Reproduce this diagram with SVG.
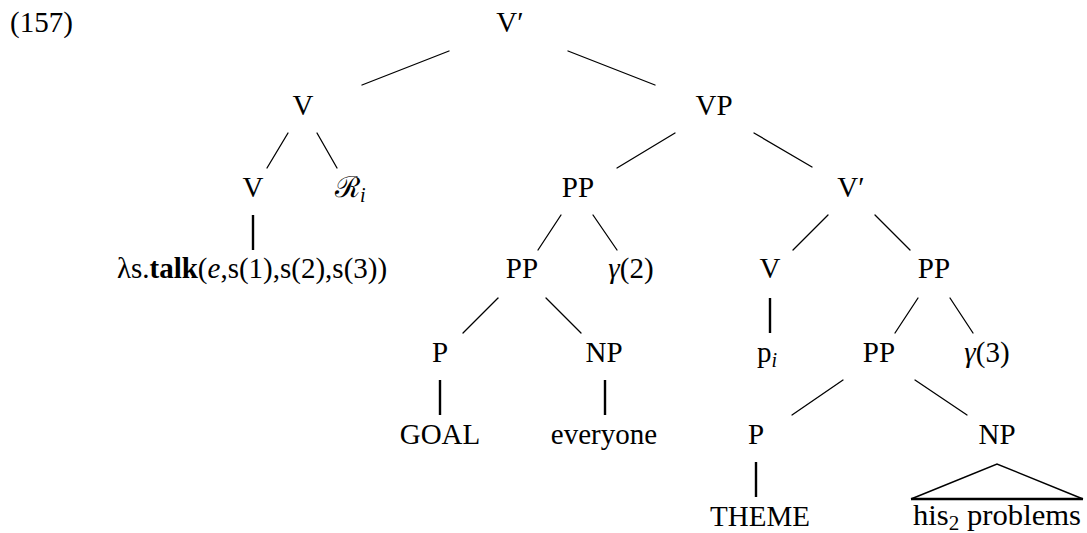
<svg xmlns="http://www.w3.org/2000/svg" width="1087" height="533" viewBox="0 0 1087 533">
<style>
text{font-family:'Liberation Serif','DejaVu Serif',serif;font-size:29px;fill:#000;text-anchor:middle}
.st{text-anchor:start}
.it{font-style:italic}
.b{font-weight:bold}
.sub{font-size:20px}
.e line{stroke:#000;stroke-width:1.3;stroke-linecap:round}
.e line.v{stroke-width:2.4;stroke-linecap:butt}
.e polyline{fill:none;stroke:#000;stroke-width:1.5}
.e line.base{stroke-width:2.4;stroke-linecap:butt}
</style>
<rect width="1087" height="533" fill="#fff"/>
<text class="st" x="10" y="32">(157)</text>
<g class="e" id="connectors">
<line x1="449" y1="51" x2="362" y2="85"/>
<line x1="568" y1="51" x2="655" y2="85"/>
<line x1="288" y1="133" x2="267" y2="168"/>
<line x1="317" y1="133" x2="337" y2="168"/>
<line class="v" x1="253" y1="215" x2="253" y2="250"/>
<line x1="675" y1="133" x2="617" y2="168"/>
<line x1="754" y1="133" x2="812" y2="167"/>
<line x1="561" y1="215" x2="538" y2="250"/>
<line x1="593" y1="215" x2="617" y2="250"/>
<line x1="828" y1="215" x2="793" y2="250"/>
<line x1="875" y1="215" x2="910" y2="250"/>
<line x1="498" y1="298" x2="463" y2="333"/>
<line x1="546" y1="298" x2="581" y2="333"/>
<line class="v" x1="770" y1="298" x2="770" y2="333"/>
<line x1="918" y1="298" x2="895" y2="333"/>
<line x1="950" y1="298" x2="973" y2="333"/>
<line class="v" x1="440" y1="380" x2="440" y2="415"/>
<line class="v" x1="605" y1="380" x2="605" y2="415"/>
<line x1="843" y1="380" x2="792" y2="415"/>
<line x1="915" y1="380" x2="967" y2="415"/>
<line class="v" x1="756" y1="462" x2="756" y2="497"/>
<polyline points="911,499 997,464 1083,499"/>
<line class="base" x1="911" y1="499" x2="1083" y2="499"/>
</g>
<g id="n-vbar-root"><text x="510" y="32">V′</text></g>
<g id="n-v2"><text x="303" y="115">V</text></g>
<g id="n-vp"><text x="714" y="115">VP</text></g>
<g id="n-v3"><text x="253" y="197">V</text></g>
<g id="n-ri"><text class="st" x="335" y="197">ℛ<tspan class="it sub" dy="5">i</tspan></text></g>
<g id="n-lambda"><text x="252" y="278">λs.<tspan class="b">talk</tspan>(<tspan class="it">e</tspan>,s(1),s(2),s(3))</text></g>
<g id="n-pp3"><text x="578" y="197">PP</text></g>
<g id="n-vbar3"><text x="851" y="197">V′</text></g>
<g id="n-pp4a"><text x="522" y="278">PP</text></g>
<g id="n-g2"><text x="631" y="278"><tspan class="it">γ</tspan>(2)</text></g>
<g id="n-v4"><text x="770" y="278">V</text></g>
<g id="n-pp4b"><text x="934" y="278">PP</text></g>
<g id="n-p5a"><text x="440" y="362">P</text></g>
<g id="n-np5a"><text x="604" y="362">NP</text></g>
<g id="n-pi"><text class="st" x="757" y="362">p<tspan class="it sub" dy="5">i</tspan></text></g>
<g id="n-pp5"><text x="879" y="362">PP</text></g>
<g id="n-g3"><text x="987" y="362"><tspan class="it">γ</tspan>(3)</text></g>
<g id="n-goal"><text x="440" y="444">GOAL</text></g>
<g id="n-everyone"><text x="604" y="444">everyone</text></g>
<g id="n-p6"><text x="756" y="444">P</text></g>
<g id="n-np6"><text x="997" y="444">NP</text></g>
<g id="n-theme"><text x="760" y="526">THEME</text></g>
<g id="n-his"><text x="997" y="525" textLength="168" lengthAdjust="spacingAndGlyphs">his<tspan class="sub" dy="5">2</tspan><tspan dy="-5"> problems</tspan></text></g>
</svg>
